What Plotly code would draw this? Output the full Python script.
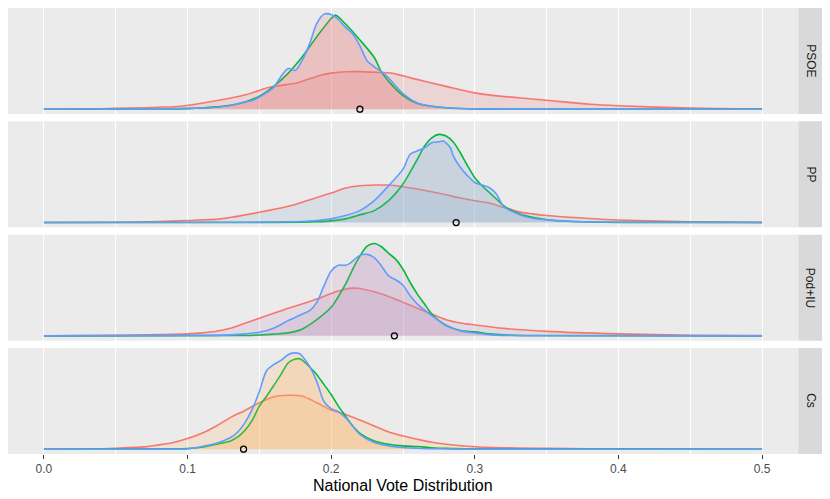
import plotly.graph_objects as go
from plotly.subplots import make_subplots

parties = ["PSOE", "PP", "Pod+IU", "Cs"]
fill_colors = ["rgba(229,122,122,0.2)", "rgba(139,171,202,0.2)",
               "rgba(190,147,190,0.2)", "rgba(255,178,98,0.2)"]
line_colors = ["#F8766D", "#00BA38", "#619CFF"]

# actual results (open circles)
actual = [0.22, 0.287, 0.244, 0.139]

# ---------- PSOE ----------
psoe_red_x = [0.0, 0.03, 0.05, 0.07, 0.08, 0.095, 0.118, 0.141, 0.155, 0.164, 0.176, 0.192, 0.2, 0.21, 0.22, 0.233, 0.242, 0.256, 0.28, 0.303, 0.33, 0.35, 0.38, 0.4, 0.45, 0.5]
psoe_red_y = [0.1, 0.3, 0.8, 1.5, 2.0, 3.0, 8.0, 14.7, 21.3, 23.7, 26.3, 34.0, 36.3, 37.7, 37.8, 37.0, 36.3, 31.3, 23.0, 15.7, 11.5, 9.0, 5.0, 3.5, 1.2, 0.3]
psoe_green_x = [0.0, 0.08, 0.10, 0.11, 0.12, 0.13, 0.14, 0.15, 0.16, 0.17, 0.18, 0.19, 0.20, 0.203, 0.21, 0.22, 0.23, 0.235, 0.24, 0.25, 0.26, 0.27, 0.28, 0.29, 0.30, 0.33, 0.5]
psoe_green_y = [0.0, 0.2, 0.6, 1.2, 2.3, 4.0, 7.3, 13.0, 23.0, 36.0, 53.0, 73.0, 91.3, 94.7, 85.7, 69.7, 52.0, 37.5, 28.0, 13.7, 5.7, 3.0, 1.5, 0.7, 0.3, 0.1, 0.0]
psoe_blue_x = [0.0, 0.08, 0.10, 0.11, 0.12, 0.13, 0.14, 0.145, 0.15, 0.16, 0.165, 0.17, 0.175, 0.18, 0.185, 0.19, 0.195, 0.2, 0.205, 0.21, 0.215, 0.22, 0.225, 0.23, 0.235, 0.24, 0.25, 0.26, 0.27, 0.28, 0.29, 0.30, 0.33, 0.5]
psoe_blue_y = [0.0, 0.3, 0.8, 1.2, 2.0, 3.7, 7.3, 8.7, 12.3, 22.0, 33.0, 41.0, 39.0, 49.7, 66.0, 86.3, 95.7, 95.3, 90.3, 82.3, 75.7, 63.7, 48.7, 42.7, 37.7, 31.3, 15.7, 6.3, 3.0, 1.5, 0.7, 0.3, 0.1, 0.0]

# ---------- PP ----------
pp_red_x = [0.0, 0.05, 0.08, 0.10, 0.123, 0.15, 0.17, 0.19, 0.2, 0.21, 0.22, 0.23, 0.24, 0.25, 0.26, 0.27, 0.28, 0.29, 0.3, 0.31, 0.32, 0.33, 0.34, 0.35, 0.38, 0.4, 0.45, 0.5]
pp_red_y = [0.1, 0.3, 1.0, 2.0, 3.7, 10.3, 16.3, 25.3, 29.7, 34.7, 37.0, 37.7, 37.7, 36.0, 33.7, 31.0, 28.0, 24.7, 22.0, 19.7, 15.3, 11.0, 8.7, 7.0, 4.0, 2.5, 0.8, 0.2]
pp_green_x = [0.0, 0.15, 0.18, 0.19, 0.2, 0.21, 0.22, 0.23, 0.24, 0.25, 0.26, 0.265, 0.27, 0.275, 0.28, 0.285, 0.29, 0.295, 0.3, 0.305, 0.31, 0.315, 0.32, 0.33, 0.34, 0.35, 0.36, 0.38, 0.4, 0.5]
pp_green_y = [0.0, 0.1, 0.4, 0.8, 1.7, 3.7, 7.7, 12.0, 22.0, 38.7, 63.7, 77.0, 85.3, 88.7, 87.0, 81.0, 70.0, 57.0, 45.0, 37.0, 30.3, 23.7, 17.0, 9.3, 5.3, 3.0, 1.5, 0.5, 0.2, 0.0]
pp_blue_x = [0.0, 0.14, 0.16, 0.18, 0.19, 0.2, 0.21, 0.22, 0.23, 0.24, 0.25, 0.255, 0.26, 0.265, 0.27, 0.275, 0.278, 0.283, 0.285, 0.29, 0.295, 0.3, 0.305, 0.31, 0.315, 0.32, 0.33, 0.34, 0.35, 0.37, 0.4, 0.5]
pp_blue_y = [0.0, 0.3, 0.5, 1.0, 2.0, 3.7, 7.0, 12.0, 22.0, 37.0, 53.7, 68.7, 72.0, 75.3, 80.3, 81.3, 82.0, 75.3, 67.0, 55.3, 47.0, 40.3, 37.7, 35.3, 28.7, 16.3, 8.7, 4.3, 2.7, 1.0, 0.3, 0.0]

# ---------- Pod+IU ----------
pod_red_x = [0.0, 0.05, 0.08, 0.1, 0.11, 0.12, 0.13, 0.14, 0.15, 0.16, 0.17, 0.18, 0.19, 0.2, 0.21, 0.215, 0.22, 0.23, 0.24, 0.25, 0.26, 0.27, 0.28, 0.29, 0.3, 0.32, 0.35, 0.4, 0.45, 0.5]
pod_red_y = [0.1, 0.5, 1.2, 2.0, 3.0, 4.7, 7.7, 12.7, 17.7, 22.7, 27.7, 32.3, 37.0, 42.7, 47.0, 48.0, 47.7, 44.3, 39.7, 33.7, 27.7, 22.0, 16.3, 13.0, 11.0, 7.5, 4.5, 2.0, 0.6, 0.2]
pod_green_x = [0.0, 0.14, 0.15, 0.16, 0.17, 0.18, 0.19, 0.2, 0.206, 0.21, 0.216, 0.22, 0.225, 0.23, 0.235, 0.24, 0.245, 0.25, 0.255, 0.26, 0.265, 0.27, 0.275, 0.28, 0.29, 0.3, 0.31, 0.32, 0.34, 0.5]
pod_green_y = [0.0, 0.4, 0.8, 1.7, 3.0, 7.0, 16.3, 28.7, 42.0, 52.0, 70.0, 80.3, 90.3, 93.0, 89.7, 83.0, 77.0, 67.0, 53.7, 42.0, 32.0, 22.0, 15.3, 10.3, 5.3, 4.0, 2.0, 1.0, 0.3, 0.0]
pod_blue_x = [0.0, 0.12, 0.13, 0.14, 0.15, 0.16, 0.17, 0.18, 0.185, 0.19, 0.195, 0.2, 0.205, 0.21, 0.213, 0.22, 0.225, 0.23, 0.235, 0.24, 0.245, 0.25, 0.255, 0.26, 0.265, 0.27, 0.275, 0.28, 0.29, 0.3, 0.31, 0.32, 0.35, 0.5]
pod_blue_y = [0.0, 0.5, 1.0, 2.0, 3.7, 7.7, 15.3, 22.0, 25.3, 33.7, 50.3, 65.3, 71.0, 71.0, 73.0, 81.0, 82.0, 78.7, 70.3, 60.3, 56.3, 51.0, 40.3, 32.0, 26.0, 20.3, 15.3, 11.0, 5.0, 3.0, 1.2, 0.5, 0.1, 0.0]

# ---------- Cs ----------
cs_red_x = [0.0, 0.0325, 0.05, 0.07, 0.08, 0.09, 0.1, 0.11, 0.12, 0.13, 0.14, 0.15, 0.16, 0.17, 0.18, 0.19, 0.2, 0.21, 0.22, 0.23, 0.24, 0.25, 0.26, 0.27, 0.28, 0.3, 0.35, 0.4, 0.5]
cs_red_y = [0.1, 0.3, 1.0, 2.3, 4.3, 6.7, 10.7, 16.0, 23.3, 32.0, 39.0, 46.7, 52.7, 54.3, 53.3, 46.7, 39.3, 35.0, 29.3, 23.3, 17.3, 13.3, 10.0, 7.0, 5.0, 2.5, 0.8, 0.3, 0.0]
cs_green_x = [0.0, 0.09, 0.1, 0.11, 0.12, 0.13, 0.135, 0.14, 0.145, 0.15, 0.155, 0.16, 0.165, 0.17, 0.175, 0.178, 0.18, 0.185, 0.19, 0.195, 0.2, 0.205, 0.21, 0.215, 0.22, 0.23, 0.24, 0.25, 0.26, 0.27, 0.28, 0.3, 0.5]
cs_green_y = [0.0, 0.3, 0.7, 2.0, 5.0, 8.3, 12.3, 19.0, 29.0, 43.3, 53.3, 64.0, 75.0, 86.7, 90.7, 91.0, 89.3, 82.7, 75.0, 65.0, 55.0, 43.3, 33.3, 23.3, 16.0, 8.3, 5.0, 3.3, 2.7, 1.5, 0.8, 0.3, 0.0]
cs_blue_x = [0.0, 0.09, 0.1, 0.11, 0.12, 0.13, 0.135, 0.14, 0.145, 0.15, 0.155, 0.16, 0.165, 0.17, 0.173, 0.178, 0.18, 0.185, 0.19, 0.195, 0.2, 0.205, 0.21, 0.215, 0.22, 0.23, 0.24, 0.25, 0.26, 0.27, 0.3, 0.5]
cs_blue_y = [0.0, 0.1, 0.3, 2.7, 6.0, 11.7, 17.3, 26.7, 40.0, 58.0, 79.0, 85.0, 89.3, 95.0, 96.7, 96.0, 93.3, 83.3, 68.0, 48.0, 40.7, 37.7, 31.7, 23.3, 15.0, 6.7, 3.3, 1.7, 1.0, 0.5, 0.1, 0.0]

panels = [
    [(psoe_red_x, psoe_red_y), (psoe_green_x, psoe_green_y), (psoe_blue_x, psoe_blue_y)],
    [(pp_red_x, pp_red_y), (pp_green_x, pp_green_y), (pp_blue_x, pp_blue_y)],
    [(pod_red_x, pod_red_y), (pod_green_x, pod_green_y), (pod_blue_x, pod_blue_y)],
    [(cs_red_x, cs_red_y), (cs_green_x, cs_green_y), (cs_blue_x, cs_blue_y)],
]

# page body has an 8px offset; figure sized so that everything fits the window
OFF = 8
W, H = 822, 491
ml, mr, mt, mb = 0, 32, 0, 45
plot_w = W - ml - mr
plot_h = H - mt - mb

fig = make_subplots(rows=4, cols=1, shared_xaxes=True,
                    vertical_spacing=7.3 / plot_h)

ymax = 97.0
yrange = [-0.05 * ymax, 1.05 * ymax]

for i, curves in enumerate(panels):
    row = i + 1
    for (xs, ys), lc in zip(curves, line_colors):
        fig.add_trace(go.Scatter(
            x=xs, y=ys, mode="lines", fill="tozeroy",
            fillcolor=fill_colors[i],
            line=dict(color=lc, width=1.6, shape="spline", smoothing=0.8),
            showlegend=False, hoverinfo="skip"), row=row, col=1)
    fig.add_trace(go.Scatter(
        x=[actual[i]], y=[0], mode="markers",
        marker=dict(symbol="circle-open", size=6, color="black",
                    line=dict(width=1.3, color="black")),
        showlegend=False, hoverinfo="skip"), row=row, col=1)

for i in range(4):
    row = i + 1
    fig.update_xaxes(
        range=[-0.025, 0.525], dtick=0.1, tick0=0, tickformat=".1f",
        showgrid=True, gridcolor="white", gridwidth=1.1,
        minor=dict(dtick=0.05, tick0=0, showgrid=True, gridcolor="white", gridwidth=0.55),
        zeroline=False, showline=False,
        ticks="outside" if row == 4 else "", ticklen=4, tickwidth=1, tickcolor="#333333",
        showticklabels=(row == 4),
        tickfont=dict(family="Liberation Sans", size=12, color="#4D4D4D"),
        row=row, col=1)
    fig.update_yaxes(range=yrange, showgrid=False, zeroline=False,
                     showticklabels=False, ticks="", showline=False,
                     row=row, col=1)

shapes = []
annotations = []
x0 = (798.3 - OFF - ml) / plot_w
x1 = (823.3 - OFF - ml) / plot_w
xc = (810.8 - OFF - ml) / plot_w
for i, p in enumerate(parties):
    yref = "y domain" if i == 0 else f"y{i+1} domain"
    shapes.append(dict(type="rect", xref="paper", yref=yref,
                       x0=x0, x1=x1, y0=0, y1=1,
                       fillcolor="#D9D9D9", line=dict(width=0), layer="below"))
    annotations.append(dict(text=p, xref="paper", yref=yref, x=xc, y=0.5,
                            showarrow=False, textangle=90,
                            xanchor="center", yanchor="middle",
                            font=dict(family="Liberation Sans", size=12, color="#1A1A1A")))

annotations.append(dict(text="National Vote Distribution", xref="paper", yref="paper",
                        x=(403 - OFF - ml) / plot_w, y=-(485 - 454) / plot_h,
                        showarrow=False, xanchor="center", yanchor="middle",
                        font=dict(family="Liberation Sans", size=16, color="black")))

fig.update_layout(
    width=W, height=H,
    margin=dict(l=ml, r=mr, t=mt, b=mb),
    paper_bgcolor="white", plot_bgcolor="#EBEBEB",
    shapes=shapes, annotations=annotations,
    font=dict(family="Liberation Sans"),
    showlegend=False,
)

fig.write_html("out.html")
